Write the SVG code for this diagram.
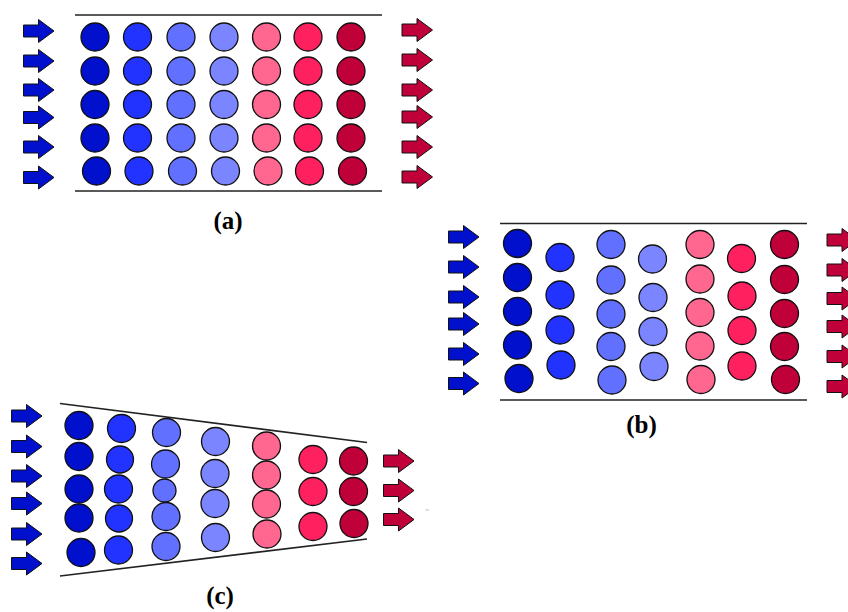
<svg xmlns="http://www.w3.org/2000/svg" xmlns:xlink="http://www.w3.org/1999/xlink" width="848" height="612" viewBox="0 0 848 612">
  <style>
    .c1 { fill: #0010cc; }
    .c2 { fill: #2233ff; }
    .c3 { fill: #6270ff; }
    .c4 { fill: #7b85ff; }
    .c5 { fill: #ff6690; }
    .c6 { fill: #ff2060; }
    .c7 { fill: #c00038; }
    circle { stroke: #111; stroke-width: 1.3; }
    .wall { stroke: #222; stroke-width: 1.6; fill: none; }
    .in { fill: #0010cc; stroke: #111; stroke-width: 1; }
    .out { fill: #c00038; stroke: #111; stroke-width: 1; }
    .label { font-family: "Liberation Serif", "Times New Roman", serif; font-weight: bold; font-size: 25px; text-anchor: middle; fill: #000; }
  </style>
  <defs>
    <!-- block arrow, origin at the tail's vertical centre -->
    <path id="arrow" d="M0,-6 H15 V-11.5 L30.5,0 L15,11.5 V6 H0 Z"/>
  </defs>
  <rect width="848" height="612" fill="#fff"/>

  <!-- (a) straight channel, aligned rows -->
  <g id="panel-a">
    <line class="wall" x1="75" y1="15" x2="382" y2="15"/>
    <line class="wall" x1="75" y1="191" x2="382" y2="191"/>
    <g id="a-particles">
      <circle class="c1" cx="95" cy="37" r="14"/>
      <circle class="c1" cx="95" cy="71" r="14"/>
      <circle class="c1" cx="95" cy="104.5" r="14"/>
      <circle class="c1" cx="95" cy="138" r="14"/>
      <circle class="c1" cx="96.5" cy="171" r="14"/>
      <circle class="c2" cx="137.5" cy="37" r="14"/>
      <circle class="c2" cx="137.5" cy="71" r="14"/>
      <circle class="c2" cx="137.5" cy="104.5" r="14"/>
      <circle class="c2" cx="137.5" cy="138" r="14"/>
      <circle class="c2" cx="139" cy="171" r="14"/>
      <circle class="c3" cx="181" cy="37" r="14"/>
      <circle class="c3" cx="181" cy="71" r="14"/>
      <circle class="c3" cx="181" cy="104.5" r="14"/>
      <circle class="c3" cx="181" cy="138" r="14"/>
      <circle class="c3" cx="182.5" cy="171" r="14"/>
      <circle class="c4" cx="224" cy="37" r="14"/>
      <circle class="c4" cx="224" cy="71" r="14"/>
      <circle class="c4" cx="224" cy="104.5" r="14"/>
      <circle class="c4" cx="224" cy="138" r="14"/>
      <circle class="c4" cx="225.5" cy="171" r="14"/>
      <circle class="c5" cx="266.5" cy="37" r="14"/>
      <circle class="c5" cx="266.5" cy="71" r="14"/>
      <circle class="c5" cx="266.5" cy="104.5" r="14"/>
      <circle class="c5" cx="266.5" cy="138" r="14"/>
      <circle class="c5" cx="268" cy="171" r="14"/>
      <circle class="c6" cx="308" cy="37" r="14"/>
      <circle class="c6" cx="308" cy="71" r="14"/>
      <circle class="c6" cx="308" cy="104.5" r="14"/>
      <circle class="c6" cx="308" cy="138" r="14"/>
      <circle class="c6" cx="309.5" cy="171" r="14"/>
      <circle class="c7" cx="351" cy="37" r="14"/>
      <circle class="c7" cx="351" cy="71" r="14"/>
      <circle class="c7" cx="351" cy="104.5" r="14"/>
      <circle class="c7" cx="351" cy="138" r="14"/>
      <circle class="c7" cx="352.5" cy="171" r="14"/>
    </g>
    <g id="a-inflow">
      <use href="#arrow" class="in" x="23.5" y="31"/>
      <use href="#arrow" class="in" x="23.5" y="61"/>
      <use href="#arrow" class="in" x="23.5" y="90"/>
      <use href="#arrow" class="in" x="23.5" y="117.5"/>
      <use href="#arrow" class="in" x="23.5" y="147"/>
      <use href="#arrow" class="in" x="23.5" y="177.5"/>
    </g>
    <g id="a-outflow">
      <use href="#arrow" class="out" x="402" y="30"/>
      <use href="#arrow" class="out" x="402" y="60"/>
      <use href="#arrow" class="out" x="402" y="90"/>
      <use href="#arrow" class="out" x="402" y="117"/>
      <use href="#arrow" class="out" x="402" y="147"/>
      <use href="#arrow" class="out" x="402" y="177"/>
    </g>
    <text class="label" x="228" y="229">(a)</text>
  </g>

  <!-- (b) straight channel, staggered columns -->
  <g id="panel-b">
    <line class="wall" x1="500" y1="223.5" x2="807" y2="223.5"/>
    <line class="wall" x1="500" y1="400" x2="807" y2="400"/>
    <g id="b-particles">
      <circle class="c1" cx="517.5" cy="243.5" r="14"/>
      <circle class="c1" cx="517.5" cy="277.5" r="14"/>
      <circle class="c1" cx="517.5" cy="311.5" r="14"/>
      <circle class="c1" cx="517.5" cy="345" r="14"/>
      <circle class="c1" cx="519" cy="378.5" r="14"/>
      <circle class="c2" cx="560" cy="257.5" r="14"/>
      <circle class="c2" cx="560" cy="295" r="14"/>
      <circle class="c2" cx="560" cy="330" r="14"/>
      <circle class="c2" cx="561" cy="365" r="14"/>
      <circle class="c3" cx="611" cy="244.5" r="14"/>
      <circle class="c3" cx="611" cy="280" r="14"/>
      <circle class="c3" cx="611" cy="314" r="14"/>
      <circle class="c3" cx="611" cy="346.5" r="14"/>
      <circle class="c3" cx="612" cy="380" r="14"/>
      <circle class="c4" cx="652.5" cy="259" r="14"/>
      <circle class="c4" cx="653" cy="297.5" r="14"/>
      <circle class="c4" cx="653" cy="331.5" r="14"/>
      <circle class="c4" cx="654" cy="366.5" r="14"/>
      <circle class="c5" cx="700" cy="244.5" r="14"/>
      <circle class="c5" cx="700" cy="279" r="14"/>
      <circle class="c5" cx="700" cy="312.5" r="14"/>
      <circle class="c5" cx="700" cy="346" r="14"/>
      <circle class="c5" cx="701" cy="379.5" r="14"/>
      <circle class="c6" cx="741.5" cy="258.5" r="14"/>
      <circle class="c6" cx="742" cy="296" r="14"/>
      <circle class="c6" cx="742" cy="330.5" r="14"/>
      <circle class="c6" cx="742" cy="366" r="14"/>
      <circle class="c7" cx="784.5" cy="244.5" r="14"/>
      <circle class="c7" cx="784.5" cy="279.5" r="14"/>
      <circle class="c7" cx="784.5" cy="313.5" r="14"/>
      <circle class="c7" cx="784.5" cy="346.5" r="14"/>
      <circle class="c7" cx="785.5" cy="379.5" r="14"/>
    </g>
    <g id="b-inflow">
      <use href="#arrow" class="in" x="448.5" y="237"/>
      <use href="#arrow" class="in" x="448.5" y="267"/>
      <use href="#arrow" class="in" x="448.5" y="297"/>
      <use href="#arrow" class="in" x="448.5" y="324"/>
      <use href="#arrow" class="in" x="448.5" y="354"/>
      <use href="#arrow" class="in" x="448.5" y="383.5"/>
    </g>
    <g id="b-outflow">
      <use href="#arrow" class="out" x="827" y="240"/>
      <use href="#arrow" class="out" x="827" y="270"/>
      <use href="#arrow" class="out" x="827" y="298.5"/>
      <use href="#arrow" class="out" x="827" y="326.5"/>
      <use href="#arrow" class="out" x="827" y="356.5"/>
      <use href="#arrow" class="out" x="827" y="386.5"/>
    </g>
    <text class="label" x="641.5" y="433">(b)</text>
  </g>

  <!-- (c) converging channel -->
  <g id="panel-c">
    <line class="wall" x1="60" y1="403.5" x2="367" y2="442.5"/>
    <line class="wall" x1="60" y1="576" x2="367" y2="539"/>
    <g id="c-particles">
      <circle class="c1" cx="79" cy="425.5" r="14"/>
      <circle class="c1" cx="79" cy="456.5" r="14"/>
      <circle class="c1" cx="79" cy="489" r="14"/>
      <circle class="c1" cx="79" cy="518" r="14"/>
      <circle class="c1" cx="81" cy="552.5" r="14"/>
      <circle class="c2" cx="121.5" cy="428.5" r="14"/>
      <circle class="c2" cx="120" cy="459.5" r="13.5"/>
      <circle class="c2" cx="118.5" cy="489" r="14"/>
      <circle class="c2" cx="119" cy="518.5" r="13.5"/>
      <circle class="c2" cx="118.5" cy="550" r="14"/>
      <circle class="c3" cx="166.5" cy="432.5" r="14"/>
      <circle class="c3" cx="165.5" cy="464" r="14"/>
      <circle class="c3" cx="164.5" cy="490.5" r="11.5"/>
      <circle class="c3" cx="166" cy="516.5" r="14"/>
      <circle class="c3" cx="166" cy="546.5" r="14"/>
      <circle class="c4" cx="215.5" cy="441.5" r="14"/>
      <circle class="c4" cx="215" cy="473.5" r="14"/>
      <circle class="c4" cx="215" cy="503.5" r="14"/>
      <circle class="c4" cx="215.5" cy="537.5" r="14"/>
      <circle class="c5" cx="266.5" cy="446" r="14"/>
      <circle class="c5" cx="266.5" cy="475" r="14"/>
      <circle class="c5" cx="266.5" cy="504" r="14"/>
      <circle class="c5" cx="267" cy="534" r="14"/>
      <circle class="c6" cx="313" cy="459.5" r="14"/>
      <circle class="c6" cx="313" cy="491.5" r="14"/>
      <circle class="c6" cx="313" cy="526.5" r="14"/>
      <circle class="c7" cx="353.5" cy="461" r="14"/>
      <circle class="c7" cx="353.5" cy="491.5" r="14"/>
      <circle class="c7" cx="354" cy="523.5" r="14"/>
    </g>
    <g id="c-inflow">
      <use href="#arrow" class="in" x="11.5" y="416"/>
      <use href="#arrow" class="in" x="11.5" y="446.5"/>
      <use href="#arrow" class="in" x="11.5" y="476"/>
      <use href="#arrow" class="in" x="11.5" y="503.5"/>
      <use href="#arrow" class="in" x="11.5" y="534"/>
      <use href="#arrow" class="in" x="11.5" y="563.5"/>
    </g>
    <g id="c-outflow">
      <use href="#arrow" class="out" x="383.5" y="461"/>
      <use href="#arrow" class="out" x="383.5" y="490.5"/>
      <use href="#arrow" class="out" x="383.5" y="519.5"/>
    </g>
    <line x1="425.5" y1="510" x2="429" y2="510" stroke="#bbb" stroke-width="1"/>
    <text class="label" x="220" y="604">(c)</text>
  </g>
</svg>
